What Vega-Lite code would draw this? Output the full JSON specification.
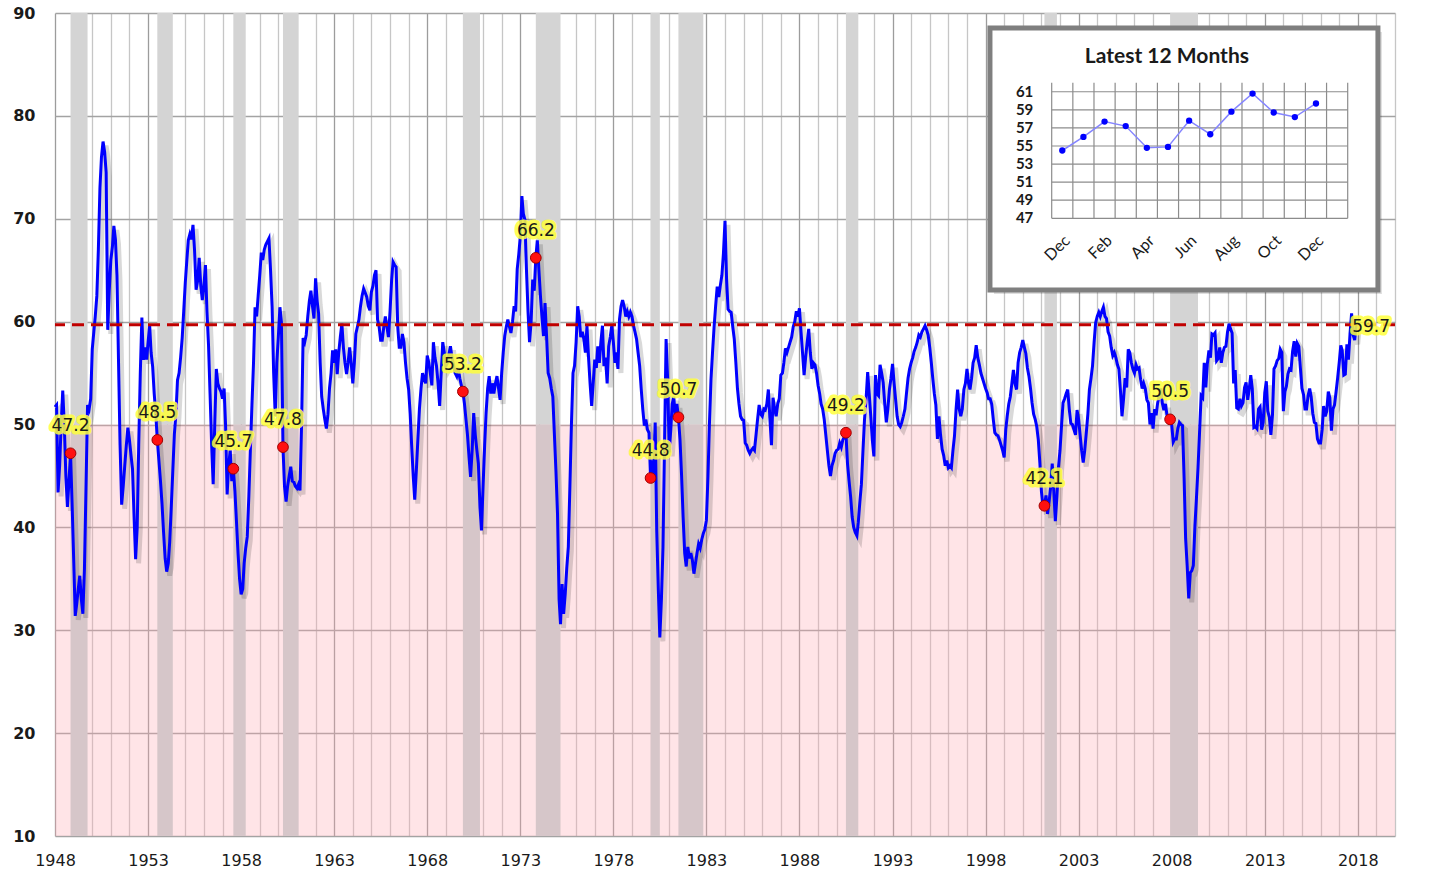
{
"$schema": "https://vega.github.io/schema/vega-lite/v6.json",
"width": 1340, "height": 823,
"autosize": {"type": "none"},
"padding": {"left": 55, "top": 13, "right": 47, "bottom": 49},
"background": "#ffffff",
"config": {"view": {"stroke": null}, "font": "DejaVu Sans"},
"datasets": {
"one": [{"k": 0}],
"rec": [{"s":"1948-11","e":"1949-10"},{"s":"1953-07","e":"1954-05"},{"s":"1957-08","e":"1958-04"},{"s":"1960-04","e":"1961-02"},{"s":"1969-12","e":"1970-11"},{"s":"1973-11","e":"1975-03"},{"s":"1980-01","e":"1980-07"},{"s":"1981-07","e":"1982-11"},{"s":"1990-07","e":"1991-03"},{"s":"2001-03","e":"2001-11"},{"s":"2007-12","e":"2009-06"}],
"dots": [{"d":"1948-11","v":47.2},{"d":"1953-07","v":48.5},{"d":"1957-08","v":45.7},{"d":"1960-04","v":47.8},{"d":"1969-12","v":53.2},{"d":"1973-11","v":66.2},{"d":"1980-01","v":44.8},{"d":"1981-07","v":50.7},{"d":"1990-07","v":49.2},{"d":"2001-03","v":42.1},{"d":"2007-12","v":50.5}],
"last": [{"d":"2017-12","v":59.7}],
"inset": [{"i":1,"m":"Dec","v":54.5},{"i":2,"m":"Jan","v":56.0},{"i":3,"m":"Feb","v":57.7},{"i":4,"m":"Mar","v":57.2},{"i":5,"m":"Apr","v":54.8},{"i":6,"m":"May","v":54.9},{"i":7,"m":"Jun","v":57.8},{"i":8,"m":"Jul","v":56.3},{"i":9,"m":"Aug","v":58.8},{"i":10,"m":"Sep","v":60.8},{"i":11,"m":"Oct","v":58.7},{"i":12,"m":"Nov","v":58.2},{"i":13,"m":"Dec","v":59.7}],
"iticks": [{"v":47},{"v":49},{"v":51},{"v":53},{"v":55},{"v":57},{"v":59},{"v":61}],
"igrid": [{"g":0.5},{"g":1.5},{"g":2.5},{"g":3.5},{"g":4.5},{"g":5.5},{"g":6.5},{"g":7.5},{"g":8.5},{"g":9.5},{"g":10.5},{"g":11.5},{"g":12.5},{"g":13.5},{"g":14.5}],
"pmi": [
{"d":"1948-01","v":51.7},{"d":"1948-02","v":51.9},{"d":"1948-03","v":43.4},{"d":"1948-04","v":46.0},{"d":"1948-05","v":50.0},{"d":"1948-06","v":53.3},{"d":"1948-07","v":50.0},{"d":"1948-08","v":45.0},{"d":"1948-09","v":42.0},{"d":"1948-10","v":44.5},{"d":"1948-11","v":47.2},{"d":"1948-12","v":42.4},
{"d":"1949-01","v":37.0},{"d":"1949-02","v":31.4},{"d":"1949-03","v":32.5},{"d":"1949-04","v":34.0},{"d":"1949-05","v":35.3},{"d":"1949-06","v":33.0},{"d":"1949-07","v":31.6},{"d":"1949-08","v":36.0},{"d":"1949-09","v":44.0},{"d":"1949-10","v":51.9},{"d":"1949-11","v":51.5},{"d":"1949-12","v":52.5},
{"d":"1950-01","v":57.3},{"d":"1950-02","v":59.0},{"d":"1950-03","v":60.5},{"d":"1950-04","v":62.5},{"d":"1950-05","v":67.0},{"d":"1950-06","v":73.0},{"d":"1950-07","v":76.0},{"d":"1950-08","v":77.5},{"d":"1950-09","v":76.5},{"d":"1950-10","v":74.5},{"d":"1950-11","v":59.2},{"d":"1950-12","v":63.0},
{"d":"1951-01","v":66.0},{"d":"1951-02","v":67.3},{"d":"1951-03","v":69.3},{"d":"1951-04","v":68.0},{"d":"1951-05","v":64.5},{"d":"1951-06","v":56.0},{"d":"1951-07","v":48.0},{"d":"1951-08","v":42.2},{"d":"1951-09","v":44.0},{"d":"1951-10","v":46.0},{"d":"1951-11","v":48.0},{"d":"1951-12","v":49.7},
{"d":"1952-01","v":48.5},{"d":"1952-02","v":47.0},{"d":"1952-03","v":45.7},{"d":"1952-04","v":41.0},{"d":"1952-05","v":36.9},{"d":"1952-06","v":40.0},{"d":"1952-07","v":48.0},{"d":"1952-08","v":55.0},{"d":"1952-09","v":60.4},{"d":"1952-10","v":56.3},{"d":"1952-11","v":57.5},{"d":"1952-12","v":56.3},
{"d":"1953-01","v":58.0},{"d":"1953-02","v":59.6},{"d":"1953-03","v":57.0},{"d":"1953-04","v":55.6},{"d":"1953-05","v":53.0},{"d":"1953-06","v":51.0},{"d":"1953-07","v":48.5},{"d":"1953-08","v":46.5},{"d":"1953-09","v":44.5},{"d":"1953-10","v":42.3},{"d":"1953-11","v":39.5},{"d":"1953-12","v":37.0},
{"d":"1954-01","v":35.7},{"d":"1954-02","v":36.5},{"d":"1954-03","v":38.6},{"d":"1954-04","v":42.0},{"d":"1954-05","v":45.5},{"d":"1954-06","v":49.1},{"d":"1954-07","v":51.0},{"d":"1954-08","v":54.3},{"d":"1954-09","v":55.0},{"d":"1954-10","v":56.5},{"d":"1954-11","v":58.4},{"d":"1954-12","v":61.0},
{"d":"1955-01","v":63.8},{"d":"1955-02","v":66.0},{"d":"1955-03","v":67.9},{"d":"1955-04","v":68.5},{"d":"1955-05","v":68.0},{"d":"1955-06","v":69.4},{"d":"1955-07","v":67.0},{"d":"1955-08","v":63.1},{"d":"1955-09","v":64.0},{"d":"1955-10","v":66.2},{"d":"1955-11","v":63.5},{"d":"1955-12","v":62.1},
{"d":"1956-01","v":63.5},{"d":"1956-02","v":65.5},{"d":"1956-03","v":61.0},{"d":"1956-04","v":57.7},{"d":"1956-05","v":53.0},{"d":"1956-06","v":48.0},{"d":"1956-07","v":44.2},{"d":"1956-08","v":50.0},{"d":"1956-09","v":55.4},{"d":"1956-10","v":54.0},{"d":"1956-11","v":53.5},{"d":"1956-12","v":53.2},
{"d":"1957-01","v":52.5},{"d":"1957-02","v":53.5},{"d":"1957-03","v":50.0},{"d":"1957-04","v":43.2},{"d":"1957-05","v":46.0},{"d":"1957-06","v":47.5},{"d":"1957-07","v":44.5},{"d":"1957-08","v":45.7},{"d":"1957-09","v":43.5},{"d":"1957-10","v":40.6},{"d":"1957-11","v":37.5},{"d":"1957-12","v":35.0},
{"d":"1958-01","v":33.5},{"d":"1958-02","v":34.0},{"d":"1958-03","v":36.5},{"d":"1958-04","v":38.0},{"d":"1958-05","v":39.1},{"d":"1958-06","v":43.0},{"d":"1958-07","v":47.5},{"d":"1958-08","v":51.9},{"d":"1958-09","v":56.0},{"d":"1958-10","v":61.4},{"d":"1958-11","v":60.5},{"d":"1958-12","v":62.5},
{"d":"1959-01","v":64.5},{"d":"1959-02","v":66.7},{"d":"1959-03","v":66.0},{"d":"1959-04","v":67.0},{"d":"1959-05","v":67.5},{"d":"1959-06","v":67.8},{"d":"1959-07","v":68.1},{"d":"1959-08","v":65.0},{"d":"1959-09","v":61.4},{"d":"1959-10","v":55.0},{"d":"1959-11","v":50.8},{"d":"1959-12","v":56.0},
{"d":"1960-01","v":58.5},{"d":"1960-02","v":61.4},{"d":"1960-03","v":60.0},{"d":"1960-04","v":47.8},{"d":"1960-05","v":44.0},{"d":"1960-06","v":42.5},{"d":"1960-07","v":44.0},{"d":"1960-08","v":45.0},{"d":"1960-09","v":45.9},{"d":"1960-10","v":44.5},{"d":"1960-11","v":44.4},{"d":"1960-12","v":44.0},
{"d":"1961-01","v":43.8},{"d":"1961-02","v":44.2},{"d":"1961-03","v":43.6},{"d":"1961-04","v":50.0},{"d":"1961-05","v":58.4},{"d":"1961-06","v":58.0},{"d":"1961-07","v":58.7},{"d":"1961-08","v":60.5},{"d":"1961-09","v":62.0},{"d":"1961-10","v":63.0},{"d":"1961-11","v":61.5},{"d":"1961-12","v":60.3},
{"d":"1962-01","v":64.2},{"d":"1962-02","v":62.0},{"d":"1962-03","v":60.8},{"d":"1962-04","v":56.0},{"d":"1962-05","v":52.7},{"d":"1962-06","v":51.5},{"d":"1962-07","v":50.5},{"d":"1962-08","v":49.6},{"d":"1962-09","v":51.0},{"d":"1962-10","v":53.5},{"d":"1962-11","v":55.0},{"d":"1962-12","v":57.2},
{"d":"1963-01","v":56.0},{"d":"1963-02","v":57.3},{"d":"1963-03","v":54.9},{"d":"1963-04","v":57.0},{"d":"1963-05","v":58.5},{"d":"1963-06","v":59.8},{"d":"1963-07","v":57.5},{"d":"1963-08","v":56.0},{"d":"1963-09","v":54.9},{"d":"1963-10","v":56.0},{"d":"1963-11","v":57.5},{"d":"1963-12","v":56.0},
{"d":"1964-01","v":54.0},{"d":"1964-02","v":56.0},{"d":"1964-03","v":58.8},{"d":"1964-04","v":59.5},{"d":"1964-05","v":60.2},{"d":"1964-06","v":61.5},{"d":"1964-07","v":62.5},{"d":"1964-08","v":63.2},{"d":"1964-09","v":62.8},{"d":"1964-10","v":62.4},{"d":"1964-11","v":61.5},{"d":"1964-12","v":61.1},
{"d":"1965-01","v":62.9},{"d":"1965-02","v":63.5},{"d":"1965-03","v":64.5},{"d":"1965-04","v":65.0},{"d":"1965-05","v":60.2},{"d":"1965-06","v":59.5},{"d":"1965-07","v":58.2},{"d":"1965-08","v":58.2},{"d":"1965-09","v":59.5},{"d":"1965-10","v":60.5},{"d":"1965-11","v":59.5},{"d":"1965-12","v":58.5},
{"d":"1966-01","v":61.0},{"d":"1966-02","v":64.0},{"d":"1966-03","v":65.8},{"d":"1966-04","v":65.5},{"d":"1966-05","v":65.3},{"d":"1966-06","v":59.5},{"d":"1966-07","v":57.5},{"d":"1966-08","v":57.5},{"d":"1966-09","v":58.8},{"d":"1966-10","v":58.0},{"d":"1966-11","v":56.0},{"d":"1966-12","v":54.5},
{"d":"1967-01","v":53.4},{"d":"1967-02","v":51.0},{"d":"1967-03","v":48.0},{"d":"1967-04","v":45.0},{"d":"1967-05","v":42.7},{"d":"1967-06","v":45.5},{"d":"1967-07","v":48.5},{"d":"1967-08","v":51.5},{"d":"1967-09","v":53.5},{"d":"1967-10","v":55.0},{"d":"1967-11","v":54.4},{"d":"1967-12","v":54.0},
{"d":"1968-01","v":56.7},{"d":"1968-02","v":56.0},{"d":"1968-03","v":55.0},{"d":"1968-04","v":53.8},{"d":"1968-05","v":58.0},{"d":"1968-06","v":56.5},{"d":"1968-07","v":55.7},{"d":"1968-08","v":54.0},{"d":"1968-09","v":51.8},{"d":"1968-10","v":55.0},{"d":"1968-11","v":58.0},{"d":"1968-12","v":57.0},
{"d":"1969-01","v":55.7},{"d":"1969-02","v":56.0},{"d":"1969-03","v":56.8},{"d":"1969-04","v":57.6},{"d":"1969-05","v":56.5},{"d":"1969-06","v":55.8},{"d":"1969-07","v":55.0},{"d":"1969-08","v":54.7},{"d":"1969-09","v":55.5},{"d":"1969-10","v":54.5},{"d":"1969-11","v":53.8},{"d":"1969-12","v":53.2},
{"d":"1970-01","v":52.0},{"d":"1970-02","v":50.4},{"d":"1970-03","v":49.0},{"d":"1970-04","v":46.8},{"d":"1970-05","v":44.9},{"d":"1970-06","v":47.5},{"d":"1970-07","v":51.1},{"d":"1970-08","v":49.0},{"d":"1970-09","v":47.5},{"d":"1970-10","v":46.2},{"d":"1970-11","v":42.0},{"d":"1970-12","v":39.7},
{"d":"1971-01","v":44.0},{"d":"1971-02","v":48.0},{"d":"1971-03","v":51.1},{"d":"1971-04","v":53.5},{"d":"1971-05","v":54.7},{"d":"1971-06","v":53.0},{"d":"1971-07","v":54.0},{"d":"1971-08","v":53.0},{"d":"1971-09","v":54.0},{"d":"1971-10","v":54.7},{"d":"1971-11","v":53.5},{"d":"1971-12","v":52.4},
{"d":"1972-01","v":55.0},{"d":"1972-02","v":57.0},{"d":"1972-03","v":58.6},{"d":"1972-04","v":59.5},{"d":"1972-05","v":60.2},{"d":"1972-06","v":59.5},{"d":"1972-07","v":58.9},{"d":"1972-08","v":60.0},{"d":"1972-09","v":61.5},{"d":"1972-10","v":61.0},{"d":"1972-11","v":65.1},{"d":"1972-12","v":66.5},
{"d":"1973-01","v":68.3},{"d":"1973-02","v":72.2},{"d":"1973-03","v":70.5},{"d":"1973-04","v":69.9},{"d":"1973-05","v":65.1},{"d":"1973-06","v":61.0},{"d":"1973-07","v":58.0},{"d":"1973-08","v":60.0},{"d":"1973-09","v":64.1},{"d":"1973-10","v":63.0},{"d":"1973-11","v":66.2},{"d":"1973-12","v":67.9},
{"d":"1974-01","v":65.0},{"d":"1974-02","v":62.4},{"d":"1974-03","v":60.5},{"d":"1974-04","v":58.6},{"d":"1974-05","v":61.8},{"d":"1974-06","v":58.5},{"d":"1974-07","v":55.0},{"d":"1974-08","v":54.5},{"d":"1974-09","v":53.5},{"d":"1974-10","v":52.7},{"d":"1974-11","v":49.0},{"d":"1974-12","v":45.5},
{"d":"1975-01","v":41.3},{"d":"1975-02","v":33.0},{"d":"1975-03","v":30.6},{"d":"1975-04","v":34.5},{"d":"1975-05","v":31.6},{"d":"1975-06","v":33.5},{"d":"1975-07","v":36.0},{"d":"1975-08","v":38.1},{"d":"1975-09","v":44.0},{"d":"1975-10","v":50.0},{"d":"1975-11","v":55.0},{"d":"1975-12","v":55.7},
{"d":"1976-01","v":58.0},{"d":"1976-02","v":61.5},{"d":"1976-03","v":60.5},{"d":"1976-04","v":58.5},{"d":"1976-05","v":59.0},{"d":"1976-06","v":58.3},{"d":"1976-07","v":57.0},{"d":"1976-08","v":59.6},{"d":"1976-09","v":56.5},{"d":"1976-10","v":54.0},{"d":"1976-11","v":51.8},{"d":"1976-12","v":54.0},
{"d":"1977-01","v":56.3},{"d":"1977-02","v":55.5},{"d":"1977-03","v":57.6},{"d":"1977-04","v":56.0},{"d":"1977-05","v":58.0},{"d":"1977-06","v":59.6},{"d":"1977-07","v":55.7},{"d":"1977-08","v":56.5},{"d":"1977-09","v":54.0},{"d":"1977-10","v":57.6},{"d":"1977-11","v":58.5},{"d":"1977-12","v":59.6},
{"d":"1978-01","v":58.0},{"d":"1978-02","v":56.0},{"d":"1978-03","v":57.0},{"d":"1978-04","v":55.4},{"d":"1978-05","v":60.2},{"d":"1978-06","v":61.5},{"d":"1978-07","v":62.1},{"d":"1978-08","v":61.5},{"d":"1978-09","v":60.5},{"d":"1978-10","v":61.0},{"d":"1978-11","v":60.5},{"d":"1978-12","v":60.9},
{"d":"1979-01","v":60.5},{"d":"1979-02","v":59.6},{"d":"1979-03","v":59.0},{"d":"1979-04","v":58.3},{"d":"1979-05","v":57.0},{"d":"1979-06","v":55.7},{"d":"1979-07","v":53.5},{"d":"1979-08","v":51.5},{"d":"1979-09","v":49.9},{"d":"1979-10","v":50.5},{"d":"1979-11","v":49.5},{"d":"1979-12","v":49.2},
{"d":"1980-01","v":44.8},{"d":"1980-02","v":46.5},{"d":"1980-03","v":45.0},{"d":"1980-04","v":50.2},{"d":"1980-05","v":39.7},{"d":"1980-06","v":34.0},{"d":"1980-07","v":29.3},{"d":"1980-08","v":33.0},{"d":"1980-09","v":38.1},{"d":"1980-10","v":48.0},{"d":"1980-11","v":58.3},{"d":"1980-12","v":54.5},
{"d":"1981-01","v":47.3},{"d":"1981-02","v":49.5},{"d":"1981-03","v":52.0},{"d":"1981-04","v":52.7},{"d":"1981-05","v":50.5},{"d":"1981-06","v":52.0},{"d":"1981-07","v":50.7},{"d":"1981-08","v":48.5},{"d":"1981-09","v":45.0},{"d":"1981-10","v":41.0},{"d":"1981-11","v":37.5},{"d":"1981-12","v":36.2},
{"d":"1982-01","v":38.1},{"d":"1982-02","v":37.0},{"d":"1982-03","v":37.5},{"d":"1982-04","v":36.8},{"d":"1982-05","v":35.5},{"d":"1982-06","v":36.5},{"d":"1982-07","v":37.5},{"d":"1982-08","v":38.4},{"d":"1982-09","v":38.0},{"d":"1982-10","v":38.8},{"d":"1982-11","v":39.4},{"d":"1982-12","v":39.8},
{"d":"1983-01","v":40.7},{"d":"1983-02","v":45.0},{"d":"1983-03","v":50.0},{"d":"1983-04","v":54.4},{"d":"1983-05","v":57.0},{"d":"1983-06","v":59.5},{"d":"1983-07","v":61.5},{"d":"1983-08","v":63.4},{"d":"1983-09","v":62.4},{"d":"1983-10","v":63.5},{"d":"1983-11","v":64.5},{"d":"1983-12","v":66.6},
{"d":"1984-01","v":69.8},{"d":"1984-02","v":64.1},{"d":"1984-03","v":61.2},{"d":"1984-04","v":61.0},{"d":"1984-05","v":60.9},{"d":"1984-06","v":59.5},{"d":"1984-07","v":58.3},{"d":"1984-08","v":56.0},{"d":"1984-09","v":53.5},{"d":"1984-10","v":52.0},{"d":"1984-11","v":50.8},{"d":"1984-12","v":50.5},
{"d":"1985-01","v":50.4},{"d":"1985-02","v":48.2},{"d":"1985-03","v":48.0},{"d":"1985-04","v":47.5},{"d":"1985-05","v":47.2},{"d":"1985-06","v":47.5},{"d":"1985-07","v":47.7},{"d":"1985-08","v":47.5},{"d":"1985-09","v":49.0},{"d":"1985-10","v":50.5},{"d":"1985-11","v":51.9},{"d":"1985-12","v":51.0},
{"d":"1986-01","v":50.8},{"d":"1986-02","v":51.5},{"d":"1986-03","v":51.4},{"d":"1986-04","v":52.0},{"d":"1986-05","v":53.4},{"d":"1986-06","v":50.5},{"d":"1986-07","v":48.0},{"d":"1986-08","v":52.6},{"d":"1986-09","v":51.5},{"d":"1986-10","v":50.8},{"d":"1986-11","v":52.0},{"d":"1986-12","v":52.5},
{"d":"1987-01","v":54.8},{"d":"1987-02","v":55.0},{"d":"1987-03","v":56.0},{"d":"1987-04","v":57.4},{"d":"1987-05","v":57.0},{"d":"1987-06","v":57.5},{"d":"1987-07","v":58.0},{"d":"1987-08","v":58.5},{"d":"1987-09","v":59.5},{"d":"1987-10","v":60.0},{"d":"1987-11","v":61.0},{"d":"1987-12","v":60.5},
{"d":"1988-01","v":61.3},{"d":"1988-02","v":59.0},{"d":"1988-03","v":57.0},{"d":"1988-04","v":54.8},{"d":"1988-05","v":56.5},{"d":"1988-06","v":58.0},{"d":"1988-07","v":59.3},{"d":"1988-08","v":57.0},{"d":"1988-09","v":55.4},{"d":"1988-10","v":56.0},{"d":"1988-11","v":55.8},{"d":"1988-12","v":55.0},
{"d":"1989-01","v":53.8},{"d":"1989-02","v":53.0},{"d":"1989-03","v":52.0},{"d":"1989-04","v":51.5},{"d":"1989-05","v":50.5},{"d":"1989-06","v":49.0},{"d":"1989-07","v":47.5},{"d":"1989-08","v":46.0},{"d":"1989-09","v":45.0},{"d":"1989-10","v":46.0},{"d":"1989-11","v":46.5},{"d":"1989-12","v":47.2},
{"d":"1990-01","v":47.5},{"d":"1990-02","v":47.6},{"d":"1990-03","v":48.2},{"d":"1990-04","v":47.8},{"d":"1990-05","v":48.5},{"d":"1990-06","v":48.8},{"d":"1990-07","v":49.2},{"d":"1990-08","v":46.2},{"d":"1990-09","v":44.5},{"d":"1990-10","v":43.0},{"d":"1990-11","v":41.0},{"d":"1990-12","v":40.0},
{"d":"1991-01","v":39.5},{"d":"1991-02","v":39.2},{"d":"1991-03","v":40.5},{"d":"1991-04","v":42.5},{"d":"1991-05","v":44.2},{"d":"1991-06","v":47.5},{"d":"1991-07","v":50.5},{"d":"1991-08","v":52.5},{"d":"1991-09","v":55.1},{"d":"1991-10","v":53.0},{"d":"1991-11","v":50.8},{"d":"1991-12","v":48.5},
{"d":"1992-01","v":46.9},{"d":"1992-02","v":54.8},{"d":"1992-03","v":53.0},{"d":"1992-04","v":52.8},{"d":"1992-05","v":55.8},{"d":"1992-06","v":55.0},{"d":"1992-07","v":54.1},{"d":"1992-08","v":52.0},{"d":"1992-09","v":50.2},{"d":"1992-10","v":51.5},{"d":"1992-11","v":53.4},{"d":"1992-12","v":54.5},
{"d":"1993-01","v":55.9},{"d":"1993-02","v":54.0},{"d":"1993-03","v":52.5},{"d":"1993-04","v":50.8},{"d":"1993-05","v":50.0},{"d":"1993-06","v":49.8},{"d":"1993-07","v":50.2},{"d":"1993-08","v":50.8},{"d":"1993-09","v":51.5},{"d":"1993-10","v":53.0},{"d":"1993-11","v":54.5},{"d":"1993-12","v":55.4},
{"d":"1994-01","v":56.0},{"d":"1994-02","v":56.5},{"d":"1994-03","v":57.1},{"d":"1994-04","v":57.5},{"d":"1994-05","v":58.0},{"d":"1994-06","v":58.7},{"d":"1994-07","v":58.5},{"d":"1994-08","v":59.0},{"d":"1994-09","v":59.3},{"d":"1994-10","v":59.6},{"d":"1994-11","v":59.2},{"d":"1994-12","v":58.7},
{"d":"1995-01","v":57.5},{"d":"1995-02","v":56.0},{"d":"1995-03","v":54.5},{"d":"1995-04","v":53.0},{"d":"1995-05","v":51.9},{"d":"1995-06","v":48.6},{"d":"1995-07","v":50.8},{"d":"1995-08","v":49.0},{"d":"1995-09","v":47.6},{"d":"1995-10","v":47.0},{"d":"1995-11","v":46.0},{"d":"1995-12","v":46.5},
{"d":"1996-01","v":45.8},{"d":"1996-02","v":46.0},{"d":"1996-03","v":45.8},{"d":"1996-04","v":47.5},{"d":"1996-05","v":48.9},{"d":"1996-06","v":51.5},{"d":"1996-07","v":53.4},{"d":"1996-08","v":51.5},{"d":"1996-09","v":50.8},{"d":"1996-10","v":51.5},{"d":"1996-11","v":53.4},{"d":"1996-12","v":54.0},
{"d":"1997-01","v":55.4},{"d":"1997-02","v":54.0},{"d":"1997-03","v":53.4},{"d":"1997-04","v":54.5},{"d":"1997-05","v":56.0},{"d":"1997-06","v":56.5},{"d":"1997-07","v":57.7},{"d":"1997-08","v":56.5},{"d":"1997-09","v":55.8},{"d":"1997-10","v":55.0},{"d":"1997-11","v":54.5},{"d":"1997-12","v":54.0},
{"d":"1998-01","v":53.5},{"d":"1998-02","v":53.1},{"d":"1998-03","v":52.5},{"d":"1998-04","v":52.5},{"d":"1998-05","v":52.0},{"d":"1998-06","v":50.5},{"d":"1998-07","v":49.2},{"d":"1998-08","v":49.0},{"d":"1998-09","v":48.9},{"d":"1998-10","v":48.5},{"d":"1998-11","v":48.0},{"d":"1998-12","v":47.5},
{"d":"1999-01","v":46.8},{"d":"1999-02","v":49.5},{"d":"1999-03","v":50.8},{"d":"1999-04","v":52.0},{"d":"1999-05","v":52.7},{"d":"1999-06","v":54.0},{"d":"1999-07","v":55.3},{"d":"1999-08","v":54.0},{"d":"1999-09","v":53.4},{"d":"1999-10","v":56.0},{"d":"1999-11","v":57.0},{"d":"1999-12","v":57.5},
{"d":"2000-01","v":58.2},{"d":"2000-02","v":57.5},{"d":"2000-03","v":56.9},{"d":"2000-04","v":55.5},{"d":"2000-05","v":54.7},{"d":"2000-06","v":53.5},{"d":"2000-07","v":52.1},{"d":"2000-08","v":51.0},{"d":"2000-09","v":50.5},{"d":"2000-10","v":49.8},{"d":"2000-11","v":48.5},{"d":"2000-12","v":46.3},
{"d":"2001-01","v":43.5},{"d":"2001-02","v":42.0},{"d":"2001-03","v":42.1},{"d":"2001-04","v":43.1},{"d":"2001-05","v":41.3},{"d":"2001-06","v":42.5},{"d":"2001-07","v":43.9},{"d":"2001-08","v":46.2},{"d":"2001-09","v":43.5},{"d":"2001-10","v":40.6},{"d":"2001-11","v":43.0},{"d":"2001-12","v":45.8},
{"d":"2002-01","v":47.5},{"d":"2002-02","v":50.0},{"d":"2002-03","v":52.1},{"d":"2002-04","v":52.5},{"d":"2002-05","v":53.0},{"d":"2002-06","v":53.4},{"d":"2002-07","v":51.5},{"d":"2002-08","v":50.1},{"d":"2002-09","v":50.0},{"d":"2002-10","v":49.5},{"d":"2002-11","v":49.0},{"d":"2002-12","v":51.4},
{"d":"2003-01","v":50.5},{"d":"2003-02","v":48.9},{"d":"2003-03","v":47.5},{"d":"2003-04","v":46.3},{"d":"2003-05","v":47.5},{"d":"2003-06","v":49.2},{"d":"2003-07","v":51.0},{"d":"2003-08","v":53.4},{"d":"2003-09","v":54.5},{"d":"2003-10","v":55.7},{"d":"2003-11","v":58.0},{"d":"2003-12","v":59.9},
{"d":"2004-01","v":60.5},{"d":"2004-02","v":60.9},{"d":"2004-03","v":60.5},{"d":"2004-04","v":61.0},{"d":"2004-05","v":61.4},{"d":"2004-06","v":60.5},{"d":"2004-07","v":60.3},{"d":"2004-08","v":59.0},{"d":"2004-09","v":58.6},{"d":"2004-10","v":57.5},{"d":"2004-11","v":56.7},{"d":"2004-12","v":57.0},
{"d":"2005-01","v":56.5},{"d":"2005-02","v":55.8},{"d":"2005-03","v":55.4},{"d":"2005-04","v":53.3},{"d":"2005-05","v":50.8},{"d":"2005-06","v":52.5},{"d":"2005-07","v":54.5},{"d":"2005-08","v":53.6},{"d":"2005-09","v":57.3},{"d":"2005-10","v":57.0},{"d":"2005-11","v":56.0},{"d":"2005-12","v":55.4},
{"d":"2006-01","v":55.0},{"d":"2006-02","v":55.8},{"d":"2006-03","v":55.4},{"d":"2006-04","v":55.5},{"d":"2006-05","v":54.4},{"d":"2006-06","v":53.5},{"d":"2006-07","v":54.0},{"d":"2006-08","v":53.5},{"d":"2006-09","v":52.4},{"d":"2006-10","v":52.1},{"d":"2006-11","v":50.0},{"d":"2006-12","v":51.1},
{"d":"2007-01","v":49.6},{"d":"2007-02","v":51.5},{"d":"2007-03","v":50.9},{"d":"2007-04","v":52.1},{"d":"2007-05","v":52.8},{"d":"2007-06","v":53.5},{"d":"2007-07","v":52.1},{"d":"2007-08","v":51.4},{"d":"2007-09","v":52.0},{"d":"2007-10","v":50.9},{"d":"2007-11","v":50.8},{"d":"2007-12","v":50.5},
{"d":"2008-01","v":50.0},{"d":"2008-02","v":48.3},{"d":"2008-03","v":48.6},{"d":"2008-04","v":48.6},{"d":"2008-05","v":49.6},{"d":"2008-06","v":50.2},{"d":"2008-07","v":50.0},{"d":"2008-08","v":49.9},{"d":"2008-09","v":44.8},{"d":"2008-10","v":38.9},{"d":"2008-11","v":36.2},{"d":"2008-12","v":33.1},
{"d":"2009-01","v":35.6},{"d":"2009-02","v":35.8},{"d":"2009-03","v":36.3},{"d":"2009-04","v":40.1},{"d":"2009-05","v":42.8},{"d":"2009-06","v":45.8},{"d":"2009-07","v":49.2},{"d":"2009-08","v":52.8},{"d":"2009-09","v":52.6},{"d":"2009-10","v":56.0},{"d":"2009-11","v":53.6},{"d":"2009-12","v":55.9},
{"d":"2010-01","v":57.2},{"d":"2010-02","v":56.5},{"d":"2010-03","v":58.8},{"d":"2010-04","v":58.7},{"d":"2010-05","v":58.9},{"d":"2010-06","v":56.2},{"d":"2010-07","v":56.4},{"d":"2010-08","v":57.5},{"d":"2010-09","v":56.0},{"d":"2010-10","v":57.0},{"d":"2010-11","v":57.5},{"d":"2010-12","v":57.6},
{"d":"2011-01","v":59.0},{"d":"2011-02","v":59.8},{"d":"2011-03","v":59.3},{"d":"2011-04","v":58.9},{"d":"2011-05","v":54.0},{"d":"2011-06","v":55.3},{"d":"2011-07","v":51.6},{"d":"2011-08","v":51.5},{"d":"2011-09","v":52.5},{"d":"2011-10","v":51.8},{"d":"2011-11","v":52.1},{"d":"2011-12","v":53.6},
{"d":"2012-01","v":54.1},{"d":"2012-02","v":52.4},{"d":"2012-03","v":53.4},{"d":"2012-04","v":54.8},{"d":"2012-05","v":53.5},{"d":"2012-06","v":49.7},{"d":"2012-07","v":49.8},{"d":"2012-08","v":49.6},{"d":"2012-09","v":51.5},{"d":"2012-10","v":51.7},{"d":"2012-11","v":49.5},{"d":"2012-12","v":50.2},
{"d":"2013-01","v":53.1},{"d":"2013-02","v":54.2},{"d":"2013-03","v":51.3},{"d":"2013-04","v":50.7},{"d":"2013-05","v":49.0},{"d":"2013-06","v":50.9},{"d":"2013-07","v":55.4},{"d":"2013-08","v":55.7},{"d":"2013-09","v":56.2},{"d":"2013-10","v":56.4},{"d":"2013-11","v":57.3},{"d":"2013-12","v":57.0},
{"d":"2014-01","v":51.3},{"d":"2014-02","v":53.2},{"d":"2014-03","v":53.7},{"d":"2014-04","v":54.9},{"d":"2014-05","v":55.4},{"d":"2014-06","v":55.3},{"d":"2014-07","v":57.1},{"d":"2014-08","v":58.1},{"d":"2014-09","v":56.6},{"d":"2014-10","v":57.9},{"d":"2014-11","v":57.6},{"d":"2014-12","v":55.5},
{"d":"2015-01","v":53.5},{"d":"2015-02","v":52.9},{"d":"2015-03","v":51.5},{"d":"2015-04","v":51.5},{"d":"2015-05","v":52.8},{"d":"2015-06","v":53.5},{"d":"2015-07","v":52.7},{"d":"2015-08","v":51.1},{"d":"2015-09","v":50.2},{"d":"2015-10","v":50.1},{"d":"2015-11","v":48.6},{"d":"2015-12","v":48.2},
{"d":"2016-01","v":48.2},{"d":"2016-02","v":49.5},{"d":"2016-03","v":51.8},{"d":"2016-04","v":50.8},{"d":"2016-05","v":51.3},{"d":"2016-06","v":53.2},{"d":"2016-07","v":52.6},{"d":"2016-08","v":49.4},{"d":"2016-09","v":51.5},{"d":"2016-10","v":51.9},{"d":"2016-11","v":53.2},{"d":"2016-12","v":54.5},
{"d":"2017-01","v":56.0},{"d":"2017-02","v":57.7},{"d":"2017-03","v":57.2},{"d":"2017-04","v":54.8},{"d":"2017-05","v":54.9},{"d":"2017-06","v":57.8},{"d":"2017-07","v":56.3},{"d":"2017-08","v":58.8},{"d":"2017-09","v":60.8},{"d":"2017-10","v":58.7},{"d":"2017-11","v":58.2},{"d":"2017-12","v":59.7}
]
},
"layer": [
{
"layer": [
{
"data": {"name": "one"},
"mark": {"type": "rect", "color": "#FFA5AF", "opacity": 0.3},
"encoding": {
"x": {"datum": {"year": 1948, "month": 1, "date": 1, "utc": true}, "type": "temporal", "title": null,
 "scale": {"type": "utc", "domain": [{"year": 1948, "month": 1, "date": 1, "utc": true}, {"year": 2020, "month": 1, "date": 1, "utc": true}], "nice": false},
 "axis": {"tickCount": {"interval": "year", "step": 1}, "grid": true, "ticks": false, "domain": false,
  "gridColor": {"condition": {"test": "utcyear(datum.value) % 5 === 3", "value": "#9c9c9c"}, "value": "#c6c6c6"},
  "gridWidth": 1.3,
  "labelExpr": "(utcyear(datum.value) - 1948) % 5 === 0 ? utcFormat(datum.value, '%Y') : ''",
  "labelFont": "DejaVu Sans", "labelFontSize": 16, "labelColor": "#1a1a1a", "labelPadding": 16,
  "labelFlush": false, "labelOverlap": false, "labelAngle": 0}},
"x2": {"datum": {"year": 2020, "month": 1, "date": 1, "utc": true}},
"y": {"datum": 10, "type": "quantitative", "title": null,
 "scale": {"domain": [10, 90], "nice": false, "zero": false},
 "axis": {"values": [10, 20, 30, 40, 50, 60, 70, 80, 90], "grid": true, "gridColor": "#a3a3a3", "gridWidth": 1.3,
  "ticks": false, "domain": false, "labelFont": "DejaVu Sans", "labelFontWeight": "bold", "labelFontSize": 16,
  "labelColor": "#1a1a1a", "labelPadding": 20}},
"y2": {"datum": 50}
}
},
{
"data": {"name": "rec"},
"mark": {"type": "rect", "color": "#D4D4D4"},
"encoding": {
"x": {"field": "s", "type": "temporal", "title": null},
"x2": {"field": "e"},
"y": {"datum": 50, "type": "quantitative", "title": null},
"y2": {"datum": 90}
}
},
{
"data": {"name": "rec"},
"mark": {"type": "rect", "color": "#D6C6C9"},
"encoding": {
"x": {"field": "s", "type": "temporal", "title": null},
"x2": {"field": "e"},
"y": {"datum": 10, "type": "quantitative", "title": null},
"y2": {"datum": 50}
}
},
{
"data": {"name": "pmi"},
"mark": {"type": "line", "color": "#000000", "opacity": 0.15, "strokeWidth": 5, "xOffset": 3, "yOffset": 4},
"encoding": {
"x": {"field": "d", "type": "temporal", "title": null},
"y": {"field": "v", "type": "quantitative", "title": null}
}
},
{
"data": {"name": "pmi"},
"mark": {"type": "line", "color": "#0000FF", "strokeWidth": 3},
"encoding": {
"x": {"field": "d", "type": "temporal", "title": null},
"y": {"field": "v", "type": "quantitative", "title": null}
}
},
{
"data": {"name": "one"},
"mark": {"type": "rule", "color": "#C00000", "strokeWidth": 3, "strokeDash": [12, 7]},
"encoding": {
"y": {"datum": 59.7, "type": "quantitative", "title": null}
}
},
{
"data": {"name": "dots"},
"mark": {"type": "point", "shape": "circle", "filled": true, "fill": "#FF1010", "stroke": "#A00000", "strokeWidth": 1, "size": 115, "opacity": 1},
"encoding": {
"x": {"field": "d", "type": "temporal", "title": null},
"y": {"field": "v", "type": "quantitative", "title": null}
}
},
{
"data": {"name": "dots"},
"mark": {"type": "text", "font": "DejaVu Sans", "fontSize": 17, "dy": -27, "baseline": "middle", "fill": "#FFFF3C", "stroke": "#FFFF3C", "strokeWidth": 7, "strokeJoin": "round", "opacity": 0.85},
"encoding": {
"x": {"field": "d", "type": "temporal", "title": null},
"y": {"field": "v", "type": "quantitative", "title": null},
"text": {"field": "v", "type": "quantitative", "format": ".1f"}
}
},
{
"data": {"name": "dots"},
"mark": {"type": "text", "font": "DejaVu Sans", "fontSize": 17, "dy": -27, "baseline": "middle", "fill": "#1a1a1a"},
"encoding": {
"x": {"field": "d", "type": "temporal", "title": null},
"y": {"field": "v", "type": "quantitative", "title": null},
"text": {"field": "v", "type": "quantitative", "format": ".1f"}
}
},
{
"data": {"name": "last"},
"mark": {"type": "text", "font": "DejaVu Sans", "fontSize": 17, "dx": -4, "dy": 2, "align": "left", "baseline": "middle", "fill": "#FFFF3C", "stroke": "#FFFF3C", "strokeWidth": 7, "strokeJoin": "round", "opacity": 0.85},
"encoding": {
"x": {"field": "d", "type": "temporal", "title": null},
"y": {"field": "v", "type": "quantitative", "title": null},
"text": {"field": "v", "type": "quantitative", "format": ".1f"}
}
},
{
"data": {"name": "last"},
"mark": {"type": "text", "font": "DejaVu Sans", "fontSize": 17, "dx": -4, "dy": 2, "align": "left", "baseline": "middle", "fill": "#1a1a1a"},
"encoding": {
"x": {"field": "d", "type": "temporal", "title": null},
"y": {"field": "v", "type": "quantitative", "title": null},
"text": {"field": "v", "type": "quantitative", "format": ".1f"}
}
}
]
},
{
"layer": [
{
"data": {"name": "one"},
"mark": {"type": "rect", "fill": "#000000", "opacity": 0.13, "xOffset": 4, "x2Offset": 4, "yOffset": 4, "y2Offset": 4},
"encoding": {
"x": {"datum": -2.42, "type": "quantitative", "axis": null, "scale": {"domain": [0.5, 14.5], "range": [996.7, 1292.7], "nice": false, "zero": false}},
"x2": {"datum": 15.93},
"y": {"datum": 39.07, "type": "quantitative", "axis": null, "scale": {"domain": [47, 62], "range": [205.3, 69.7], "nice": false, "zero": false}},
"y2": {"datum": 68.05}
}
},
{
"data": {"name": "one"},
"mark": {"type": "rect", "fill": "#ffffff", "stroke": "#7F7F7F", "strokeWidth": 5},
"encoding": {
"x": {"datum": -2.42, "type": "quantitative", "axis": null, "scale": {"domain": [0.5, 14.5], "range": [996.7, 1292.7], "nice": false, "zero": false}},
"x2": {"datum": 15.93},
"y": {"datum": 39.07, "type": "quantitative", "axis": null, "scale": {"domain": [47, 62], "range": [205.3, 69.7], "nice": false, "zero": false}},
"y2": {"datum": 68.05}
}
},
{
"data": {"name": "igrid"},
"mark": {"type": "rule", "color": "#8C8C8C", "strokeWidth": 1.2},
"encoding": {
"x": {"field": "g", "type": "quantitative", "axis": null, "scale": {"domain": [0.5, 14.5], "range": [996.7, 1292.7], "nice": false, "zero": false}},
"y": {"datum": 47, "type": "quantitative", "axis": null, "scale": {"domain": [47, 62], "range": [205.3, 69.7], "nice": false, "zero": false}},
"y2": {"datum": 62}
}
},
{
"data": {"name": "iticks"},
"mark": {"type": "rule", "color": "#8C8C8C", "strokeWidth": 1.2},
"encoding": {
"x": {"datum": 0.5, "type": "quantitative", "axis": null, "scale": {"domain": [0.5, 14.5], "range": [996.7, 1292.7], "nice": false, "zero": false}},
"x2": {"datum": 14.5},
"y": {"field": "v", "type": "quantitative", "axis": null, "scale": {"domain": [47, 62], "range": [205.3, 69.7], "nice": false, "zero": false}}
}
},
{
"data": {"name": "inset"},
"mark": {"type": "line", "color": "#8585FF", "strokeWidth": 1.5},
"encoding": {
"x": {"field": "i", "type": "quantitative", "axis": null, "scale": {"domain": [0.5, 14.5], "range": [996.7, 1292.7], "nice": false, "zero": false}},
"y": {"field": "v", "type": "quantitative", "axis": null, "scale": {"domain": [47, 62], "range": [205.3, 69.7], "nice": false, "zero": false}}
}
},
{
"data": {"name": "inset"},
"mark": {"type": "point", "shape": "circle", "filled": true, "color": "#0000FF", "size": 40, "opacity": 1},
"encoding": {
"x": {"field": "i", "type": "quantitative", "axis": null, "scale": {"domain": [0.5, 14.5], "range": [996.7, 1292.7], "nice": false, "zero": false}},
"y": {"field": "v", "type": "quantitative", "axis": null, "scale": {"domain": [47, 62], "range": [205.3, 69.7], "nice": false, "zero": false}}
}
},
{
"data": {"name": "one"},
"mark": {"type": "text", "text": "Latest 12 Months", "font": "Lato", "fontWeight": "bold", "fontSize": 21, "fill": "#1a1a1a", "align": "center", "baseline": "middle"},
"encoding": {
"x": {"datum": 5.95, "type": "quantitative", "axis": null, "scale": {"domain": [0.5, 14.5], "range": [996.7, 1292.7], "nice": false, "zero": false}},
"y": {"datum": 64.8, "type": "quantitative", "axis": null, "scale": {"domain": [47, 62], "range": [205.3, 69.7], "nice": false, "zero": false}}
}
},
{
"data": {"name": "iticks"},
"mark": {"type": "text", "font": "Lato", "fontWeight": "bold", "fontSize": 15, "fill": "#1a1a1a", "align": "right", "baseline": "middle"},
"encoding": {
"x": {"datum": -0.37, "type": "quantitative", "axis": null, "scale": {"domain": [0.5, 14.5], "range": [996.7, 1292.7], "nice": false, "zero": false}},
"y": {"field": "v", "type": "quantitative", "axis": null, "scale": {"domain": [47, 62], "range": [205.3, 69.7], "nice": false, "zero": false}},
"text": {"field": "v", "type": "quantitative", "format": "d"}
}
},
{
"data": {"name": "inset"},
"transform": [{"filter": "datum.i % 2 === 1"}],
"mark": {"type": "text", "font": "Lato", "fontSize": 16, "fill": "#1a1a1a", "align": "right", "baseline": "middle", "angle": 315, "xOffset": 5},
"encoding": {
"x": {"field": "i", "type": "quantitative", "axis": null, "scale": {"domain": [0.5, 14.5], "range": [996.7, 1292.7], "nice": false, "zero": false}},
"y": {"datum": 44.8, "type": "quantitative", "axis": null, "scale": {"domain": [47, 62], "range": [205.3, 69.7], "nice": false, "zero": false}},
"text": {"field": "m", "type": "nominal"}
}
}
]
}
],
"resolve": {"scale": {"x": "independent", "y": "independent"}, "axis": {"x": "independent", "y": "independent"}}
}
